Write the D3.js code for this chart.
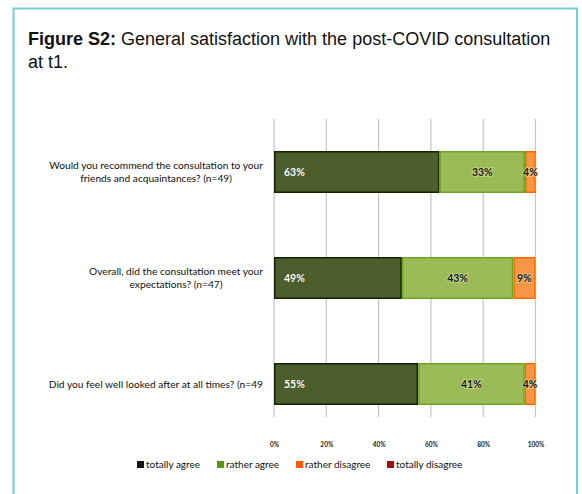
<!DOCTYPE html>
<html>
<head>
<meta charset="utf-8">
<script src="https://cdn.jsdelivr.net/npm/d3@7"></script>
<style>
  html, body { margin: 0; padding: 0; background: #fff; }
  svg { display: block; }
</style>
</head>
<body>
<svg id="chart" width="582" height="494"></svg>
<script>
// Survey items (top to bottom) and share of answers per response level (%)
const questions = [
  ["Would you recommend the consultation to your", "friends and acquaintances? (n=49)"],
  ["Overall, did the consultation meet your", "expectations? (n=47)"],
  ["Did you feel well looked after at all times? (n=49"]
];
const totallyAgree    = [63.3, 48.9, 55.1];
const ratherAgree     = [32.7, 42.6, 40.8];
const ratherDisagree  = [4.1, 8.5, 4.1];
const totallyDisagree = [0, 0, 0];
const seriesNames = ["totally agree", "rather agree", "rather disagree", "totally disagree"];
const tickValues = [0, 20, 40, 60, 80, 100];

const svg = d3.select("#chart");

// frame
svg.append("rect")
  .attr("x", 13.5).attr("y", 8.5)
  .attr("width", 563.5).attr("height", 500)
  .attr("fill", "#fff")
  .attr("stroke", "#74cddb").attr("stroke-width", 2);

// caption
const cap = svg.append("text")
  .attr("x", 28).attr("y", 45)
  .attr("font-family", "'Liberation Sans', Arial, sans-serif")
  .attr("font-size", 18).attr("fill", "#111");
cap.append("tspan").attr("font-weight", "bold").text("Figure S2:");
cap.append("tspan").text(" General satisfaction with the post-COVID consultation");
svg.append("text")
  .attr("x", 28).attr("y", 68)
  .attr("font-family", "'Liberation Sans', Arial, sans-serif")
  .attr("font-size", 18).attr("fill", "#111")
  .text("at t1.");

const rows = questions.map((q, i) => ({
  q: i,
  "totally agree": totallyAgree[i],
  "rather agree": ratherAgree[i],
  "rather disagree": ratherDisagree[i],
  "totally disagree": totallyDisagree[i]
}));
const stacked = d3.stack().keys(seriesNames)(rows);

const x = d3.scaleLinear().domain([0, 100]).range([274, 535.5]);
const y = d3.scaleBand().domain(d3.range(questions.length))
  .range([151, 405]).paddingInner(64 / 106).paddingOuter(0);

const fills   = { "totally agree": "#4b5e2b", "rather agree": "#9bbb59", "rather disagree": "#f79646", "totally disagree": "#c0504d" };
const strokes = { "totally agree": "#162006", "rather agree": "#6ea51e", "rather disagree": "#ff6a00", "totally disagree": "#8b0000" };
const legendColors = { "totally agree": "#151515", "rather agree": "#4f9a10", "rather disagree": "#ff5a0a", "totally disagree": "#a01010" };
const labelColors = { "totally agree": "#ffffff", "rather agree": "#111", "rather disagree": "#111", "totally disagree": "#fff" };

// gridlines
svg.append("g")
  .selectAll("line")
  .data(tickValues)
  .join("line")
  .attr("x1", d => x(d)).attr("x2", d => x(d))
  .attr("y1", 119).attr("y2", 417)
  .attr("stroke", "#c6c6c6").attr("stroke-width", 1.2);

// bars
stacked.forEach(layer => {
  const key = layer.key;
  svg.append("g").selectAll("rect")
    .data(layer.filter(d => d[1] - d[0] > 0))
    .join("rect")
    .attr("x", d => x(d[0]) + 0.75)
    .attr("y", d => y(d.data.q) + 0.75)
    .attr("width", d => Math.max(0, x(d[1]) - x(d[0]) - 1.5))
    .attr("height", y.bandwidth() - 1.5)
    .attr("fill", fills[key])
    .attr("stroke", strokes[key])
    .attr("stroke-width", 1.5);
});

// value labels
const fmt = v => Math.round(v) + "%";
stacked.forEach(layer => {
  const key = layer.key;
  const inner = key === "totally agree";
  svg.append("g").selectAll("text")
    .data(layer.filter(d => d[1] - d[0] > 0))
    .join("text")
    .attr("x", d => inner ? x(d[0]) + 10 : (x(d[0]) + x(d[1])) / 2)
    .attr("y", d => y(d.data.q) + y.bandwidth() / 2 + 4)
    .attr("text-anchor", inner ? "start" : "middle")
    .attr("font-family", "Lato, 'Open Sans', sans-serif")
    .attr("font-size", 10.5).attr("font-weight", "bold")
    .attr("fill", labelColors[key])
    .attr("stroke", inner ? "#2a3a14" : "#eefcc4")
    .attr("stroke-width", inner ? 0.6 : 1.6)
    .attr("stroke-opacity", inner ? 0.6 : 0.55)
    .attr("paint-order", "stroke")
    .text(d => fmt(d[1] - d[0]));
});

// category labels: centred block, right edge at the axis
const catRight = 263;
questions.forEach((lines, i) => {
  const cy = y(i) + y.bandwidth() / 2;
  const t = svg.append("text")
    .attr("font-family", "Lato, 'Open Sans', sans-serif")
    .attr("font-size", 10.2).attr("fill", "#111")
    .attr("text-anchor", "middle");
  const lh = 13;
  const y0 = cy - (lines.length - 1) * lh / 2 + 3.5;
  const spans = lines.map((s, k) => t.append("tspan").attr("y", y0 + k * lh).text(s));
  const maxW = d3.max(spans, s => s.node().getComputedTextLength());
  spans.forEach(s => s.attr("x", catRight - maxW / 2));
});

// x axis tick labels
const axis = d3.axisBottom(x).tickValues(tickValues).tickFormat(d => d + "%").tickSize(0).tickPadding(0);
const ax = svg.append("g").attr("transform", "translate(0,442)").call(axis);
ax.select(".domain").remove();
ax.selectAll("text")
  .attr("font-family", "Lato, 'Open Sans', sans-serif")
  .attr("font-size", 6.5).attr("font-weight", "bold")
  .attr("fill", "#222");

// legend
const legendX = [137, 217, 296, 387];
const lg = svg.append("g").selectAll("g")
  .data(seriesNames)
  .join("g")
  .attr("transform", (d, i) => `translate(${legendX[i]},468)`);
lg.append("rect")
  .attr("x", 0).attr("y", -7).attr("width", 7).attr("height", 7)
  .attr("fill", d => legendColors[d]);
lg.append("text")
  .attr("x", 9).attr("y", 0)
  .attr("font-family", "Lato, 'Open Sans', sans-serif")
  .attr("font-size", 10).attr("fill", "#111")
  .text(d => d);
</script>
</body>
</html>
